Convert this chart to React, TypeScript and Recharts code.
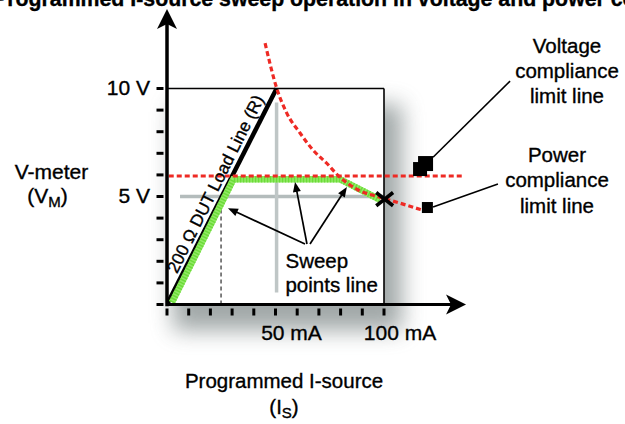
import React from 'react';
import {
  ComposedChart,
  Line,
  XAxis,
  YAxis,
  ReferenceLine,
  ReferenceDot,
  Customized,
} from 'recharts';

const FONT = '"Liberation Sans", Arial, Helvetica, sans-serif';
const TS = { stroke: '#000', strokeWidth: 0.35 };

// ---- tick values / labels ----
const xTicks = [0, 10, 20, 30, 40, 50, 60, 70, 80, 90, 100];
const yTicks = [0, 1, 2, 3, 4, 5, 6, 7, 8, 9, 10];
const xTickLabels: Record<number, string> = { 50: '50 mA', 100: '100 mA' };
const yTickLabels: Record<number, string> = { 5: '5 V', 10: '10 V' };

// ---- series values (mA, V) ----
const loadLineI = [0, 50.5];
const loadLineV = [0, 10];
const sweepI = [2.3, 30.6, 79.7, 98.2];
const sweepV = [0.1, 5.8, 5.8, 4.85];
const powerLimitI = [45.2, 50.6, 55.2, 61.3, 67.3, 73.6, 78.9, 88.1, 97.3, 107.4, 117.4];
const powerLimitV = [12.1, 10.0, 8.86, 7.94, 7.15, 6.54, 5.97, 5.3, 4.99, 4.69, 4.38];
const voltageLimitV = 5.95;
const voltageLimitI = [0.8, 137];
const rangeI = 100;
const rangeV = 10;
const refI = 50.5;
const refV = 5;
const endI = 100.3;
const endV = 4.88;
const bendMarkI = 24.9;
const bendMarkV = 4.45;

const toPts = (xs: number[], ys: number[]) => xs.map((x, i) => ({ x, y: ys[i] }));
const loadData = toPts(loadLineI, loadLineV);
const sweepData = toPts(sweepI, sweepV);
const powerData = toPts(powerLimitI, powerLimitV);

const RED = '#ee2a24';

const XTick = (p: any) => {
  const { x, y, payload } = p;
  const lbl = xTickLabels[payload.value];
  return (
    <g>
      <line x1={x} x2={x} y1={y + 4} y2={y + 11} stroke="#000" strokeWidth={3} />
      {lbl && (
        <text x={x + 16} y={y + 35.5} textAnchor="middle" fontSize={21} fontFamily={FONT} fill="#000" {...TS}>
          {lbl}
        </text>
      )}
    </g>
  );
};

const YTick = (p: any) => {
  const { x, y, payload } = p;
  const lbl = yTickLabels[payload.value];
  return (
    <g>
      <line x1={x - 10.5} x2={x - 3.5} y1={y} y2={y} stroke="#000" strokeWidth={3} />
      {lbl && (
        <text x={x - 17} y={y + 6.3} textAnchor="end" fontSize={21} fontFamily={FONT} fill="#000" {...TS}>
          {lbl}
        </text>
      )}
    </g>
  );
};

// box with a soft drop shadow; corners come from the segment's scaled endpoints
const ShadowBox = (p: any) => {
  const { x1, y1, x2, y2 } = p;
  if ([x1, y1, x2, y2].some((v) => v == null || isNaN(v))) return <g />;
  const x = Math.min(x1, x2);
  const y = Math.min(y1, y2);
  const w = Math.abs(x2 - x1);
  const h = Math.abs(y2 - y1);
  return (
    <g>
      <defs>
        <filter id="boxBlur" x="-50%" y="-50%" width="200%" height="200%">
          <feGaussianBlur stdDeviation="11" />
        </filter>
      </defs>
      <rect x={x + 6} y={y + 16} width={w + 12} height={h + 10} fill="#6f7a7a" opacity={0.65} filter="url(#boxBlur)" />
      <rect x={x} y={y} width={w} height={h} fill="#fff" />
    </g>
  );
};

const ArrowLine = (p: any) => {
  const { x1, y1, x2, y2 } = p;
  if ([x1, y1, x2, y2].some((v) => v == null || isNaN(v))) return <g />;
  const dx = x2 - x1;
  const dy = y2 - y1;
  const L = Math.hypot(dx, dy) || 1;
  const ux = dx / L;
  const uy = dy / L;
  const len = 10;
  const w = 4;
  const bx = x2 - ux * len;
  const by = y2 - uy * len;
  const pts = `${x2},${y2} ${bx - uy * w},${by + ux * w} ${bx + uy * w},${by - ux * w}`;
  return (
    <g>
      <line x1={x1} y1={y1} x2={bx + ux * 2} y2={by + uy * 2} stroke="#000" strokeWidth={1.7} />
      <polygon points={pts} fill="#000" />
    </g>
  );
};

const UpArrow = (p: any) => {
  const { cx, cy } = p;
  return <path d={`M${cx},${cy} L${cx - 10},${cy + 20} L${cx},${cy + 15} L${cx + 10},${cy + 20} Z`} fill="#000" />;
};
const RightArrow = (p: any) => {
  const { cx, cy } = p;
  return <path d={`M${cx},${cy} L${cx - 20},${cy - 10} L${cx - 15},${cy} L${cx - 20},${cy + 10} Z`} fill="#000" />;
};
const XMark = (p: any) => {
  const { cx, cy } = p;
  return (
    <g stroke="#000" strokeWidth={3.6} strokeLinecap="square">
      <line x1={cx - 7} y1={cy - 5.5} x2={cx + 7} y2={cy + 5.5} />
      <line x1={cx - 7} y1={cy + 5.5} x2={cx + 7} y2={cy - 5.5} />
    </g>
  );
};
const BigSquare = (p: any) => {
  const { cx, cy } = p;
  return (
    <g fill="#000">
      <rect x={cx - 5} y={cy - 10} width={15} height={15} />
      <rect x={cx - 10} y={cy - 4} width={14} height={14} />
    </g>
  );
};
const SmallSquare = (p: any) => {
  const { cx, cy } = p;
  return <rect x={cx - 5.5} y={cy - 5.5} width={11} height={11} fill="#000" />;
};
const LoadLabel = (p: any) => {
  const { cx, cy } = p;
  return (
    <text
      x={cx}
      y={cy}
      transform={`rotate(-63.5 ${cx} ${cy})`}
      textAnchor="middle"
      fontSize={17.3}
      fontFamily={FONT}
      fill="#000"
      {...TS}
    >
      200 Ω DUT Load Line (R)
    </text>
  );
};
const SweepLabel = (p: any) => {
  const { cx, cy } = p;
  return (
    <g fontFamily={FONT} fill="#000" fontSize={20.5} {...TS}>
      <text x={cx} y={cy}>Sweep</text>
      <text x={cx} y={cy + 24}>points line</text>
    </g>
  );
};

const Texts = () => (
  <g fontFamily={FONT} fill="#000" {...TS}>
    <text x={-7} y={5.5} fontSize={21.3} fontWeight="bold">
      Programmed I-source sweep operation in voltage and power compliance
    </text>
    <text x={51.5} y={179} fontSize={21} textAnchor="middle">V-meter</text>
    <text x={47.5} y={203} fontSize={21} textAnchor="middle">
      (V<tspan fontSize={15} dy={4}>M</tspan>
      <tspan dy={-4}>)</tspan>
    </text>
    <text x={284} y={388} fontSize={20.5} textAnchor="middle">Programmed I-source</text>
    <text x={284} y={414} fontSize={20.5} textAnchor="middle">
      (I<tspan fontSize={15} dy={4}>S</tspan>
      <tspan dy={-4}>)</tspan>
    </text>
    <text x={567} y={52.5} fontSize={20.5} textAnchor="middle">Voltage</text>
    <text x={567} y={78.3} fontSize={20.5} textAnchor="middle">compliance</text>
    <text x={567} y={102.7} fontSize={20.5} textAnchor="middle">limit line</text>
    <text x={557} y={161.7} fontSize={20.5} textAnchor="middle">Power</text>
    <text x={557} y={187.3} fontSize={20.5} textAnchor="middle">compliance</text>
    <text x={557} y={212.7} fontSize={20.5} textAnchor="middle">limit line</text>
  </g>
);

export default function App() {
  return (
    <div style={{ position: 'absolute', left: 0, top: 0, width: 625, height: 424, background: '#fff' }}>
      <ComposedChart
        width={625}
        height={424}
        margin={{ top: 8.6, right: 2.3, bottom: 109.5, left: 157 }}
      >
        <XAxis
          type="number"
          dataKey="x"
          domain={[0, 210]}
          allowDataOverflow
          ticks={xTicks}
          interval={0}
          axisLine={false}
          tickLine={false}
          tickSize={0}
          tickMargin={0}
          height={10}
          tick={<XTick />}
        />
        <YAxis
          type="number"
          domain={[0, 13.7]}
          allowDataOverflow
          ticks={yTicks}
          interval={0}
          axisLine={false}
          tickLine={false}
          tickSize={0}
          tickMargin={0}
          width={10}
          tick={<YTick />}
        />

        <ReferenceLine
          segment={[{ x: 0, y: rangeV }, { x: rangeI, y: 0 }]}
          shape={<ShadowBox />}
          ifOverflow="visible"
          zIndex={1}
        />

        <ReferenceLine
          segment={[{ x: 6, y: refV }, { x: rangeI, y: refV }]}
          stroke="#b4bcbc"
          strokeWidth={3.5}
          zIndex={2}
        />
        <ReferenceLine
          segment={[{ x: refI, y: 9.35 }, { x: refI, y: 0.55 }]}
          stroke="#bfc6c6"
          strokeWidth={3.5}
          zIndex={2}
        />
        <ReferenceLine
          segment={[{ x: 0, y: rangeV }, { x: rangeI, y: rangeV }]}
          stroke="#000"
          strokeWidth={1.6}
          zIndex={3}
        />
        <ReferenceLine
          segment={[{ x: rangeI, y: rangeV }, { x: rangeI, y: 0 }]}
          stroke="#000"
          strokeWidth={1.6}
          zIndex={3}
        />
        <ReferenceLine
          segment={[{ x: bendMarkI, y: 0 }, { x: bendMarkI, y: bendMarkV }]}
          stroke="#000"
          strokeWidth={1}
          strokeDasharray="4 3"
          zIndex={3}
        />

        <Line
          data={loadData}
          dataKey="y"
          type="linear"
          stroke="#000"
          strokeWidth={4.5}
          dot={false}
          activeDot={false}
          isAnimationActive={false}
          zIndex={4}
        />
        <Line
          data={sweepData}
          dataKey="y"
          type="linear"
          stroke="#92ea66"
          strokeWidth={6.5}
          dot={false}
          activeDot={false}
          isAnimationActive={false}
          zIndex={5}
        />
        <Line
          data={sweepData}
          dataKey="y"
          type="linear"
          stroke="#6bdb38"
          strokeWidth={6.5}
          strokeDasharray="1.5 1.5"
          dot={false}
          activeDot={false}
          isAnimationActive={false}
          zIndex={5}
        />
        <Line
          data={powerData}
          dataKey="y"
          type="monotone"
          stroke={RED}
          strokeWidth={3.2}
          strokeDasharray="5 3"
          dot={false}
          activeDot={false}
          isAnimationActive={false}
          zIndex={6}
        />
        <ReferenceLine
          segment={[{ x: voltageLimitI[0], y: voltageLimitV }, { x: voltageLimitI[1], y: voltageLimitV }]}
          stroke={RED}
          strokeWidth={3.2}
          strokeDasharray="5 3"
          zIndex={6}
        />

        {/* axes */}
        <ReferenceLine
          segment={[{ x: 0, y: -0.08 }, { x: 0, y: 13.1 }]}
          stroke="#000"
          strokeWidth={3.5}
          ifOverflow="visible"
          zIndex={7}
        />
        <ReferenceLine
          segment={[{ x: -0.1, y: 0 }, { x: 132, y: 0 }]}
          stroke="#000"
          strokeWidth={3.2}
          ifOverflow="visible"
          zIndex={7}
        />
        <ReferenceDot x={0} y={13.68} shape={<UpArrow />} zIndex={7} />
        <ReferenceDot x={137.8} y={0} shape={<RightArrow />} zIndex={7} />

        {/* annotations */}
        <ReferenceDot x={endI} y={endV} shape={<XMark />} zIndex={8} />
        <ReferenceDot x={118} y={6.41} shape={<BigSquare />} zIndex={8} />
        <ReferenceDot x={120} y={4.49} shape={<SmallSquare />} zIndex={8} />
        <ReferenceLine
          segment={[{ x: 122.6, y: 6.82 }, { x: 158.1, y: 10.34 }]}
          stroke="#000"
          strokeWidth={1.6}
          zIndex={8}
        />
        <ReferenceLine
          segment={[{ x: 122.6, y: 4.51 }, { x: 152.5, y: 5.58 }]}
          stroke="#000"
          strokeWidth={1.6}
          zIndex={8}
        />
        <ReferenceLine segment={[{ x: 63.6, y: 2.8 }, { x: 28.1, y: 4.46 }]} shape={<ArrowLine />} zIndex={8} />
        <ReferenceLine segment={[{ x: 64.5, y: 2.8 }, { x: 59, y: 5.67 }]} shape={<ArrowLine />} zIndex={8} />
        <ReferenceLine segment={[{ x: 65.9, y: 2.8 }, { x: 82.9, y: 5.44 }]} shape={<ArrowLine />} zIndex={8} />
        <ReferenceDot x={24.75} y={5.46} shape={<LoadLabel />} zIndex={8} />
        <ReferenceDot x={54.6} y={1.7} shape={<SweepLabel />} zIndex={8} />

        <Customized component={<Texts />} />
      </ComposedChart>
    </div>
  );
}
